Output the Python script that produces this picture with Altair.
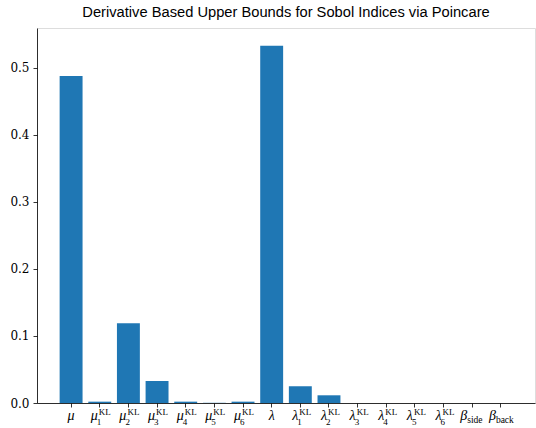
import altair as alt
import pandas as pd

# Parameter keys, their drawn symbol parts, and the bound values
keys = ["mu", "mu1", "mu2", "mu3", "mu4", "mu5", "mu6",
        "lam", "lam1", "lam2", "lam3", "lam4", "lam5", "lam6",
        "bside", "bback"]
base = ["μ", "μ", "μ", "μ", "μ", "μ", "μ",
        "λ", "λ", "λ", "λ", "λ", "λ", "λ",
        "β", "β"]
sup = ["", "KL", "KL", "KL", "KL", "KL", "KL",
       "", "KL", "KL", "KL", "KL", "KL", "KL",
       "", ""]
sub = ["", "1", "2", "3", "4", "5", "6",
       "", "1", "2", "3", "4", "5", "6",
       "side", "back"]
kind = ["plain", "kl", "kl", "kl", "kl", "kl", "kl",
        "plain", "kl", "kl", "kl", "kl", "kl", "kl",
        "beta", "beta"]
values = [0.488, 0.002, 0.119, 0.033, 0.002, 0.0003, 0.002,
          0.533, 0.025, 0.0115, 0.0, 0.0, 0.0, 0.0,
          0.0, 0.0]

df = pd.DataFrame({"key": keys, "base": base, "sup": sup, "sub": sub,
                   "kind": kind, "value": values})

W, H = 498, 375
ymax = max(values) * 1.05
SERIF = "Liberation Serif"
TICKFONT = "DejaVu Serif"

x = alt.X("key:N", sort=keys,
          scale=alt.Scale(paddingInner=0.2, paddingOuter=0.79),
          axis=alt.Axis(labels=False, title=None, ticks=True, tickSize=4,
                        tickColor="black", domainColor="black",
                        tickWidth=0.8, domainWidth=0.8))

bars = alt.Chart(df).mark_bar(color="#1f77b4").encode(
    x=x,
    y=alt.Y("value:Q", scale=alt.Scale(domain=[0, ymax], nice=False, zero=True),
            axis=alt.Axis(title=None, values=[0, 0.1, 0.2, 0.3, 0.4, 0.5],
                          format=".1f", grid=False, tickSize=4,
                          tickColor="black", domainColor="black",
                          tickWidth=0.8, domainWidth=0.8,
                          labelFont=TICKFONT, labelFontSize=12,
                          labelColor="black", labelPadding=4)),
)

lab = alt.Chart(df)
ybase = H + 17   # baseline of the main symbol, below the x axis
xk = alt.X("key:N", sort=keys)

plain = lab.transform_filter(alt.datum.kind == "plain").mark_text(
    font=SERIF, fontSize=14, fontStyle="italic", align="center",
    baseline="alphabetic", color="black"
).encode(x=xk, y=alt.value(ybase), text="base:N")

kl_base = lab.transform_filter(alt.datum.kind == "kl").mark_text(
    font=SERIF, fontSize=14, fontStyle="italic", align="right", dx=-2,
    baseline="alphabetic", color="black"
).encode(x=xk, y=alt.value(ybase), text="base:N")

kl_sup = lab.transform_filter(alt.datum.kind == "kl").mark_text(
    font=SERIF, fontSize=9, align="left", dx=-1,
    baseline="alphabetic", color="black"
).encode(x=xk, y=alt.value(ybase - 5), text="sup:N")

kl_sub = lab.transform_filter(alt.datum.kind == "kl").mark_text(
    font=SERIF, fontSize=9, align="left", dx=-3,
    baseline="alphabetic", color="black"
).encode(x=xk, y=alt.value(ybase + 5), text="sub:N")

beta_base = lab.transform_filter(alt.datum.kind == "beta").mark_text(
    font=SERIF, fontSize=14, fontStyle="italic", align="right", dx=-5,
    baseline="alphabetic", color="black"
).encode(x=xk, y=alt.value(ybase), text="base:N")

beta_sub = lab.transform_filter(alt.datum.kind == "beta").mark_text(
    font=SERIF, fontSize=9.5, align="left", dx=-5,
    baseline="alphabetic", color="black"
).encode(x=xk, y=alt.value(ybase + 3), text="sub:N")

chart = alt.layer(bars, plain, kl_base, kl_sup, kl_sub, beta_base, beta_sub).properties(
    width=W, height=H,
    title=alt.TitleParams("Derivative Based Upper Bounds for Sobol Indices via Poincare",
                          font="Liberation Sans", fontSize=14.7, fontWeight="normal",
                          color="black", offset=8, anchor="middle"),
    padding={"left": 37, "top": 28, "right": 1, "bottom": 25},
    autosize="none",
).configure_view(stroke="black", strokeWidth=0.8).configure_axis(
    labelFont=TICKFONT, labelFontSize=12, labelColor="black"
).configure(background="white")

chart.save("out.html", embed_options={"renderer": "svg", "actions": False})
